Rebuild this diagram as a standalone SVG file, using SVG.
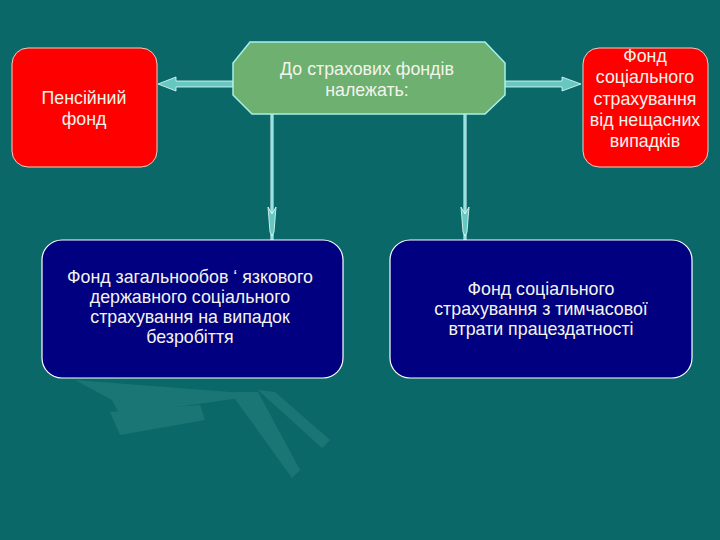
<svg xmlns="http://www.w3.org/2000/svg" width="720" height="540" viewBox="0 0 720 540">
<defs>
<style>
.t{font-family:"Liberation Sans",Arial,sans-serif;font-size:17.8px;text-anchor:middle;fill:#f4f4ec}
.red{fill:#ff0000;stroke:#f0d0c0;stroke-width:1}
.navy{fill:#000080;stroke:#ffffff;stroke-width:1.2}
.sh{fill:#66c8c0;stroke:#e8ffff;stroke-width:0.8}
.vl{stroke:#e8ffff;stroke-width:3;fill:none}
.vi{stroke:#60d0d0;stroke-width:1.2;fill:none}
</style>
</defs>
<rect width="720" height="540" fill="#0b6868"/>
<g opacity="0.22" fill="#4aa89e">
<polygon points="75,380 230,392 240,398 155,410 120,415 112,400"/>
<polygon points="110,412 200,405 205,420 120,435"/>
<polygon points="230,392 258,392 300,470 292,478"/>
<polygon points="258,390 275,392 330,440 322,448"/>
</g>
<g id="connectors">
<g id="arrow-left">
<polygon class="sh" points="233,81 176,81 176,77 158,84 176,91 176,87 233,87"/>
</g>
<g id="arrow-right">
<polygon class="sh" points="505,81 562,81 562,77 581,84 562,91 562,87 505,87"/>
</g>
<g id="arrow-down-left">
<line class="vl" x1="272" y1="114" x2="272" y2="240"/>
<line class="vi" x1="272" y1="114" x2="272" y2="240"/>
<polygon class="sh" points="268,207 272,214 276,207 274,232 272,236 270,232"/>
</g>
<g id="arrow-down-right">
<line class="vl" x1="465" y1="114" x2="465" y2="240"/>
<line class="vi" x1="465" y1="114" x2="465" y2="240"/>
<polygon class="sh" points="461,207 465,214 469,207 467,232 465,236 463,232"/>
</g>
</g>
<g id="node-top">
<polygon points="250,42 485,42 505,63 505,95 485,114 252,114 233,95 233,63" fill="#6db070" stroke="#a8f0e8" stroke-width="1.5"/>
<text class="t" x="367" y="75">До страхових фондів</text>
<text class="t" x="367" y="96">належать:</text>
</g>
<g id="node-pension">
<rect class="red" x="12" y="48" width="145" height="119" rx="16"/>
<text class="t" x="84" y="104">Пенсійний</text>
<text class="t" x="84" y="125">фонд</text>
</g>
<g id="node-accident">
<rect class="red" x="583" y="48" width="125" height="119" rx="16"/>
<text class="t" x="645" y="62">Фонд</text>
<text class="t" x="645" y="83">соціального</text>
<text class="t" x="645" y="105">страхування</text>
<text class="t" x="645" y="126">від нещасних</text>
<text class="t" x="645" y="147">випадків</text>
</g>
<g id="node-unemployment">
<rect class="navy" x="42" y="240" width="301" height="138" rx="20"/>
<text class="t" x="190" y="283">Фонд загальнообов ‘ язкового</text>
<text class="t" x="190" y="303">державного соціального</text>
<text class="t" x="190" y="323">страхування на випадок</text>
<text class="t" x="190" y="343">безробіття</text>
</g>
<g id="node-disability">
<rect class="navy" x="390" y="240" width="302" height="138" rx="20"/>
<text class="t" x="541" y="295">Фонд соціального</text>
<text class="t" x="541" y="315">страхування з тимчасової</text>
<text class="t" x="541" y="335">втрати працездатності</text>
</g>
</svg>
